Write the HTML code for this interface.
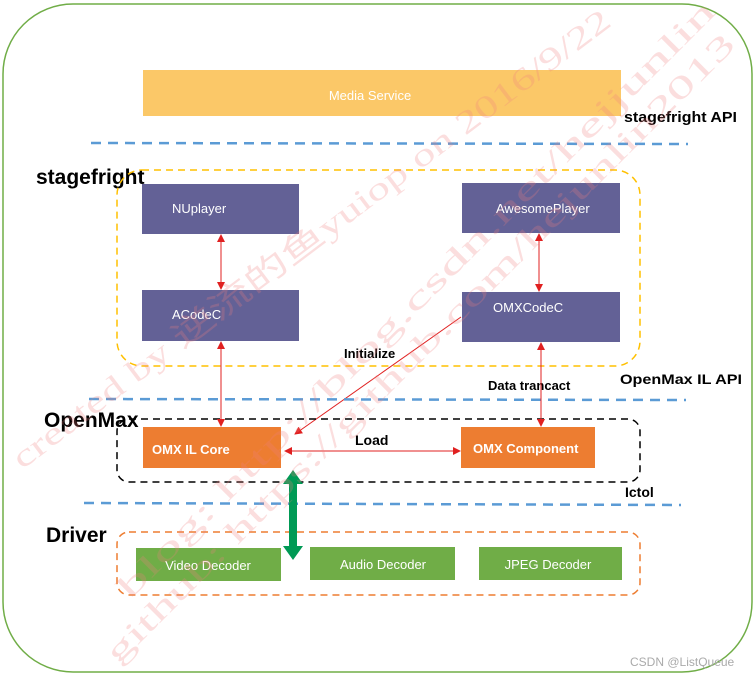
<!DOCTYPE html>
<html><head><meta charset="utf-8"><style>
body{margin:0;background:#fff;}
svg{display:block;font-family:"Liberation Sans","Noto Sans CJK SC",sans-serif;}
</style></head><body>
<svg width="755" height="676" viewBox="0 0 755 676" xmlns="http://www.w3.org/2000/svg">
<defs>
<marker id="ar" markerWidth="8" markerHeight="8" refX="7" refY="4" orient="auto-start-reverse" markerUnits="userSpaceOnUse"><path d="M0,0 L8,4 L0,8 z" fill="#e02020"/></marker>
</defs>
<rect x="3" y="4" width="749" height="668" rx="70" fill="#fff" stroke="#70ad47" stroke-width="1.5"/>
<rect x="143" y="70" width="478" height="46" fill="#fbc868"/>
<text x="370" y="100" fill="#fff" font-size="13" text-anchor="middle">Media Service</text>
<text x="624" y="122" font-size="15" font-weight="bold" textLength="113" lengthAdjust="spacingAndGlyphs">stagefright API</text>
<line x1="91" y1="143" x2="688" y2="144" stroke="#5b9bd5" stroke-width="2.5" stroke-dasharray="10,7"/>
<text x="36" y="184" font-size="21" font-weight="bold">stagefright</text>
<rect x="117" y="170" width="523" height="196" rx="25" fill="none" stroke="#ffc000" stroke-width="1.5" stroke-dasharray="7,5"/>
<rect x="142" y="184" width="157" height="50" fill="#636196"/>
<text x="172" y="213" fill="#fff" font-size="13">NUplayer</text>
<rect x="462" y="183" width="158" height="50" fill="#636196"/>
<text x="496" y="213" fill="#fff" font-size="13">AwesomePlayer</text>
<rect x="142" y="290" width="157" height="51" fill="#636196"/>
<text x="172" y="319" fill="#fff" font-size="13">ACodeC</text>
<rect x="462" y="292" width="158" height="50" fill="#636196"/>
<text x="493" y="312" fill="#fff" font-size="13">OMXCodeC</text>
<line x1="221" y1="235" x2="221" y2="289" stroke="#e02020" marker-start="url(#ar)" marker-end="url(#ar)"/>
<line x1="539" y1="234" x2="539" y2="291" stroke="#e02020" marker-start="url(#ar)" marker-end="url(#ar)"/>
<line x1="461" y1="317" x2="295" y2="434" stroke="#e02020" marker-end="url(#ar)"/>
<text x="344" y="358" font-size="13" font-weight="bold">Initialize</text>
<text x="620" y="384" font-size="14" font-weight="bold" textLength="122" lengthAdjust="spacingAndGlyphs">OpenMax IL API</text>
<text x="488" y="390" font-size="13" font-weight="bold">Data trancact</text>
<line x1="89" y1="399" x2="686" y2="400" stroke="#5b9bd5" stroke-width="2.5" stroke-dasharray="10,7"/>
<text x="44" y="427" font-size="21" font-weight="bold">OpenMax</text>
<rect x="117" y="419" width="523" height="63" rx="12" fill="none" stroke="#000" stroke-width="1.5" stroke-dasharray="7,5"/>
<rect x="143" y="427" width="138" height="41" fill="#ed7d31"/>
<text x="152" y="454" fill="#fff" font-size="13" font-weight="bold">OMX IL Core</text>
<rect x="461" y="427" width="134" height="41" fill="#ed7d31"/>
<text x="473" y="453" fill="#fff" font-size="13" font-weight="bold">OMX Component</text>
<line x1="221" y1="342" x2="221" y2="426" stroke="#e02020" marker-start="url(#ar)" marker-end="url(#ar)"/>
<line x1="541" y1="343" x2="541" y2="426" stroke="#e02020" marker-start="url(#ar)" marker-end="url(#ar)"/>
<line x1="285" y1="451" x2="460" y2="451" stroke="#e02020" marker-start="url(#ar)" marker-end="url(#ar)"/>
<text x="355" y="445" font-size="14" font-weight="bold">Load</text>
<text x="625" y="497" font-size="14" font-weight="bold">Ictol</text>
<line x1="84" y1="503" x2="681" y2="505" stroke="#5b9bd5" stroke-width="2.5" stroke-dasharray="10,7"/>
<text x="46" y="542" font-size="21" font-weight="bold">Driver</text>
<rect x="117" y="532" width="523" height="63" rx="12" fill="none" stroke="#ed7d31" stroke-width="1.5" stroke-dasharray="7,5"/>
<rect x="136" y="548" width="145" height="33" fill="#70ad47"/>
<text x="208" y="570" fill="#fff" font-size="13" text-anchor="middle">Video Decoder</text>
<rect x="310" y="547" width="145" height="33" fill="#70ad47"/>
<text x="383" y="569" fill="#fff" font-size="13" text-anchor="middle">Audio Decoder</text>
<rect x="479" y="547" width="143" height="33" fill="#70ad47"/>
<text x="548" y="569" fill="#fff" font-size="13" text-anchor="middle">JPEG Decoder</text>
<path d="M293,470 L303,484 L297,484 L297,546 L303,546 L293,560 L283,546 L289,546 L289,484 L283,484 z" fill="#009a55"/>
<g fill="#f08080" opacity="0.25" font-family="Liberation Serif,serif" font-size="32">
<text transform="translate(22,470) rotate(-37)" textLength="740" lengthAdjust="spacingAndGlyphs">created by 逆流的鱼yuiop on 2016/9/22</text>
<text transform="translate(130,600) rotate(-45)" textLength="830" lengthAdjust="spacingAndGlyphs">blog: http://blog.csdn.net/hejjunlin</text>
<text transform="translate(118,665) rotate(-45)" textLength="875" lengthAdjust="spacingAndGlyphs">github: https://github.com/hejunlin2013</text>
</g>
<text x="630" y="666" fill="#aaa" font-size="12">CSDN @ListQueue</text>
</svg>
</body></html>
